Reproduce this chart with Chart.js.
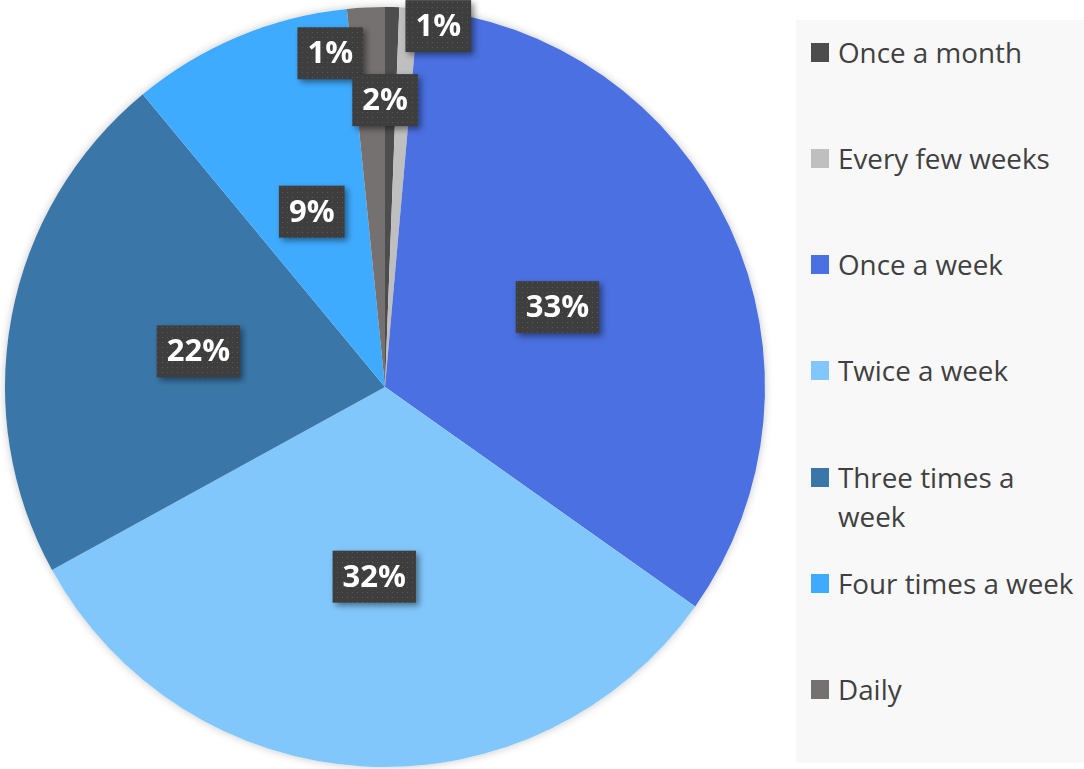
<!DOCTYPE html>
<html>
<head>
<meta charset="utf-8">
<script src="https://cdn.jsdelivr.net/npm/chart.js@4/dist/chart.umd.min.js"></script>
<style>
  body { margin: 0; background: #fff; }
  #wrap { position: relative; width: 1084px; height: 769px; }
  #legend {
    position: absolute; left: 796px; top: 20px; width: 288px; height: 743px;
    background: #f8f8f8; font-family: "Open Sans", sans-serif; font-size: 27.8px; color: #404040;
  }
  .item { position: absolute; left: 15px; display: flex; align-items: flex-start; line-height: 39px; }
  .swatch { width: 18px; height: 19px; margin-top: 10px; margin-right: 9px; flex: none; }
  .txt { width: 243px; }
</style>
</head>
<body>
<div id="wrap">
  <canvas id="myChart" width="1084" height="769"></canvas>
  <div id="legend"></div>
</div>
<script>
// Data
const categories = ['Once a month', 'Every few weeks', 'Once a week', 'Twice a week', 'Three times a week', 'Four times a week', 'Daily'];
const shares = [0.6, 0.8, 33.4, 32.2, 22.0, 9.4, 1.6];
const sliceColors = ['#4d4d4d', '#bfbfbf', '#4a70e1', '#82c7fc', '#3a77a8', '#3fabff', '#767171'];

// label placement: fraction of radius, and angle nudge in degrees (small slices were moved out)
const labelRadius = [0.89, 0.96, 0.5, 0.5, 0.5, 0.5, 0.755];
const labelNudge = [-10.4, 4.8, 0, 0, 0, 0, 2.9];

// dotted dark fill for the label boxes
const tile = document.createElement('canvas');
tile.width = 5; tile.height = 5;
const tctx = tile.getContext('2d');
tctx.fillStyle = '#3e3e3e';
tctx.fillRect(0, 0, 5, 5);
tctx.fillStyle = '#585858';
tctx.fillRect(2, 2, 1, 1);

// soft halo behind the pie
const pieShadow = {
    id: 'pieShadow',
    beforeDatasetsDraw(chart) {
        const arc = chart.getDatasetMeta(0).data[0];
        const ctx = chart.ctx;
        ctx.save();
        ctx.shadowColor = 'rgba(0,0,0,0.22)';
        ctx.shadowBlur = 9;
        ctx.fillStyle = '#fff';
        ctx.beginPath();
        ctx.arc(arc.x, arc.y, arc.outerRadius, 0, Math.PI * 2);
        ctx.fill();
        ctx.restore();
    }
};

// percentage boxes
const boxLabels = {
    id: 'boxLabels',
    afterDatasetsDraw(chart) {
        const ctx = chart.ctx;
        const pattern = ctx.createPattern(tile, 'repeat');
        chart.getDatasetMeta(0).data.forEach((arc, i) => {
            const a = (arc.startAngle + arc.endAngle) / 2 + labelNudge[i] * Math.PI / 180;
            const r = arc.outerRadius * labelRadius[i];
            const x = arc.x + Math.cos(a) * r;
            const y = arc.y + Math.sin(a) * r;
            const text = Math.round(shares[i]) + '%';
            ctx.save();
            ctx.font = 'bold 31px "Open Sans"';
            const w = ctx.measureText(text).width + 20;
            const h = 52;
            ctx.shadowColor = 'rgba(0,0,0,0.45)';
            ctx.shadowBlur = 6;
            ctx.shadowOffsetX = 3;
            ctx.shadowOffsetY = 3;
            ctx.fillStyle = pattern;
            ctx.fillRect(x - w / 2, y - h / 2, w, h);
            ctx.restore();
            ctx.save();
            ctx.font = 'bold 31px "Open Sans"';
            ctx.fillStyle = '#ffffff';
            ctx.textAlign = 'center';
            ctx.textBaseline = 'middle';
            ctx.fillText(text, x, y + 1);
            ctx.restore();
        });
    }
};

const ctx = document.getElementById('myChart').getContext('2d');
const myChart = new Chart(ctx, {
    type: 'pie',
    data: {
        labels: categories,
        datasets: [{
            data: shares,
            backgroundColor: sliceColors,
            borderWidth: 0
        }]
    },
    options: {
        responsive: false,
        animation: false,
        devicePixelRatio: 1,
        layout: { padding: { left: 5, top: 7, right: 319, bottom: 2 } },
        plugins: {
            legend: { display: false },
            tooltip: { enabled: false }
        }
    },
    plugins: [pieShadow, boxLabels]
});

// HTML legend
const legend = document.getElementById('legend');
categories.forEach((name, i) => {
    const item = document.createElement('div');
    item.className = 'item';
    item.style.top = (12.5 + i * 106.3) + 'px';
    item.innerHTML = '<span class="swatch" style="background:' + sliceColors[i] + '"></span><span class="txt">' + name + '</span>';
    legend.appendChild(item);
});
</script>
</body>
</html>
